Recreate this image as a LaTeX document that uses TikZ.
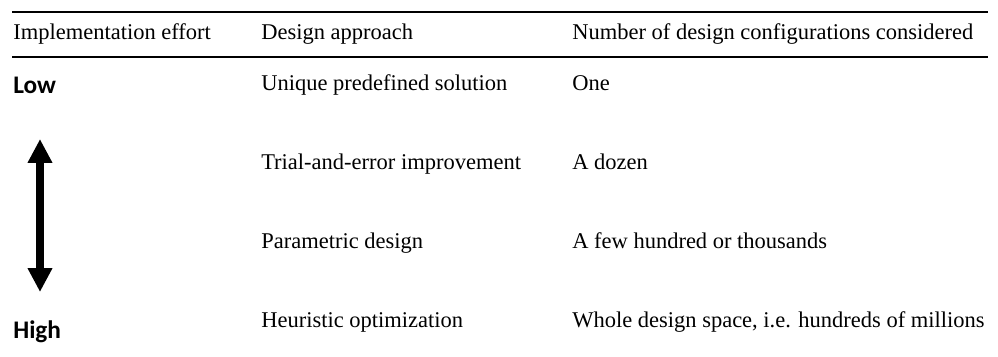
\documentclass[tikz,border=0pt]{standalone}
\usepackage{fontspec}
\setmainfont{Liberation Serif}
\newfontfamily\effortfont{Carlito}
\usetikzlibrary{arrows.meta}
\tikzset{% 
	cell/.style={anchor=base west,inner sep=0pt,font=\fontsize{16}{19}\selectfont}
}
\tikzset{% 
	effort/.style={anchor=base west,inner sep=0pt,font=\effortfont\bfseries\fontsize{18}{21}\selectfont}
}
\tikzset{% 
	rule/.style={line width=1pt},
	midrule/.style={line width=2pt}
}
\begin{document}
\begin{tikzpicture}[x=0.025cm,y=-0.025cm]
		\useasboundingbox (0,0) rectangle (998,356);

		%Rules
		\coordinate (r1l) at (12,12);
		\coordinate (r1r) at (988,12);
		\coordinate (r2l) at (12,57);
		\coordinate (r2r) at (988,57);
		\draw [rule] (r1l)--(r1r);
		\draw [midrule] (r2l)--(r2r);

		%Header
		\node [cell] (h1) at (13,39) {Implementation effort};
		\node [cell] (h2) at (261,39) {Design approach};
		\node [cell] (h3) at (572,39) {Number of design configurations considered};

		%Rows
		\node [cell] (a1) at (261,90) {Unique predefined solution};
		\node [cell] (b1) at (572,90) {One};
		\node [cell] (a2) at (261,169) {Trial-and-error improvement};
		\node [cell] (b2) at (572,169) {A dozen};
		\node [cell] (a3) at (261,248) {Parametric design};
		\node [cell] (b3) at (572,248) {A few hundred or thousands};
		\node [cell] (a4) at (261,327) {Heuristic optimization};
		\node [cell] (b4) at (572,327) {Whole design space, i.e. hundreds of millions};

		%Effort scale
		\node [effort] (low) at (13,93) {Low};
		\node [effort] (high) at (13,338) {High};
		\coordinate (up) at (40,139);
		\coordinate (down) at (40,292);
		\draw [line width=6pt,{Triangle[width=16.5pt,length=17pt]}-{Triangle[width=16.5pt,length=17pt]}] (up)--(down);

	\end{tikzpicture}
\end{document}
